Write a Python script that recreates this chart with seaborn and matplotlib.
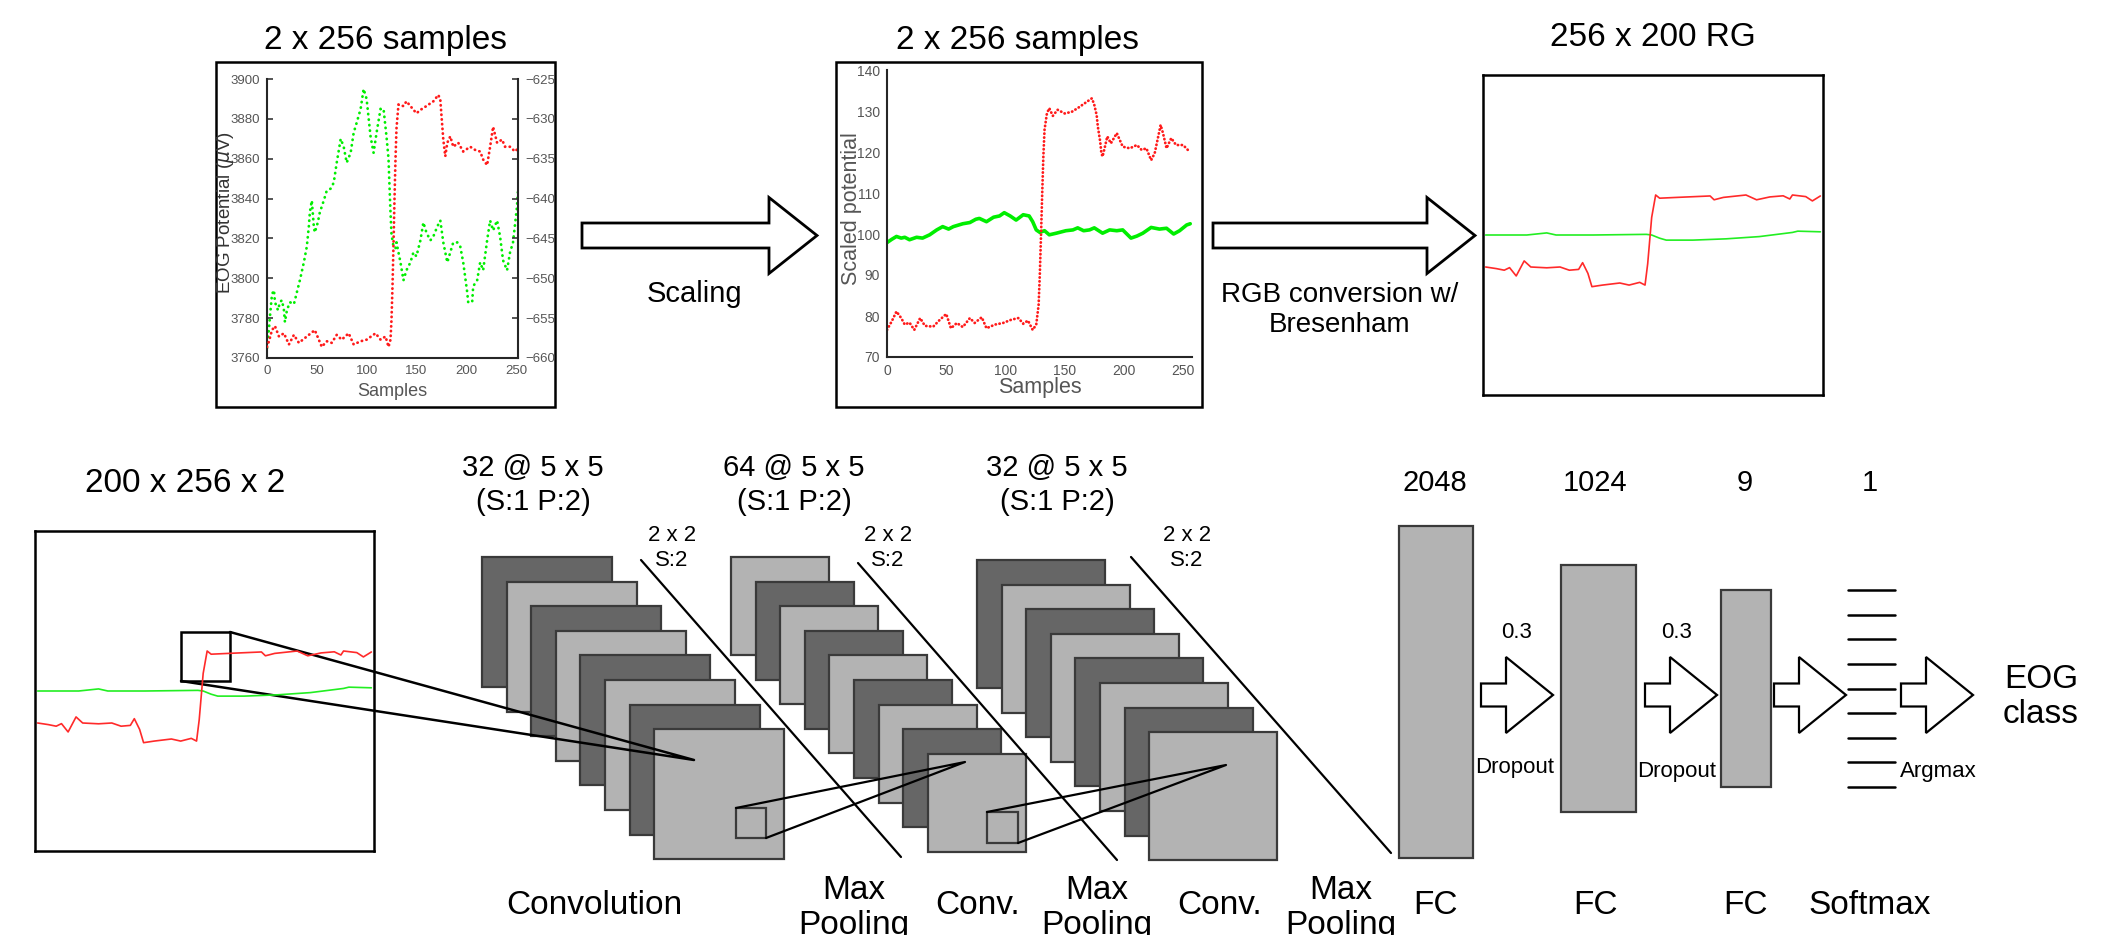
import matplotlib
matplotlib.use("Agg")
import matplotlib.pyplot as plt
from matplotlib.patches import Rectangle, Polygon
import seaborn as sns

# ---- raw EOG signal (2 channels) ----
raw_green_x = [0, 1, 2, 3, 5, 7, 8, 11, 13, 15, 17, 18, 20, 23, 27, 30, 33, 37, 40, 42, 43, 45, 47, 48,
               51, 53, 57, 60, 64, 67, 70, 74, 77, 80, 84, 87, 90, 94, 97, 100, 104, 107, 110, 114,
               117, 120, 122, 123, 124, 125, 127, 129, 130, 134, 137, 140, 144, 147, 150, 154, 157,
               160, 164, 167, 171, 174, 177, 181, 184, 187, 191, 194, 197, 201, 202, 206, 207, 211,
               214, 217, 221, 224, 227, 231, 234, 237, 241, 244, 247, 251, 252]
raw_green = [3765, 3770, 3775, 3781, 3792, 3794, 3788, 3784, 3788, 3789, 3784, 3778, 3784, 3788, 3787,
             3793, 3799, 3808, 3816, 3826, 3833, 3839, 3826, 3823, 3828, 3833, 3839, 3844, 3845, 3848,
             3858, 3870, 3866, 3858, 3863, 3873, 3878, 3885, 3895, 3890, 3871, 3863, 3873, 3885, 3885,
             3871, 3860, 3846, 3833, 3822, 3816, 3815, 3818, 3808, 3799, 3804, 3808, 3813, 3811, 3819,
             3828, 3823, 3819, 3821, 3826, 3829, 3818, 3808, 3813, 3818, 3818, 3816, 3808, 3793, 3788,
             3788, 3796, 3799, 3808, 3804, 3819, 3829, 3824, 3829, 3821, 3809, 3804, 3813, 3818, 3836,
             3844]
raw_red_x = [0, 2, 5, 8, 12, 17, 22, 27, 32, 40, 48, 55, 60, 65, 70, 75, 82, 87, 94, 100, 109, 114,
             119, 122, 124, 125, 126, 127, 128, 129, 130, 132, 137, 140, 144, 150, 155, 160, 167, 172,
             174, 175, 177, 179, 181, 184, 187, 192, 197, 204, 209, 214, 217, 221, 224, 227, 231, 236,
             239, 244, 249, 252]
raw_red = [-658.6, -657.9, -656.5, -656.0, -657.3, -656.9, -658.3, -657.1, -658.1, -657.3, -656.5,
           -658.6, -657.9, -658.1, -657.1, -657.7, -656.9, -658.3, -657.9, -657.7, -656.9, -657.7,
           -657.3, -658.6, -657.7, -655.2, -651.0, -645.8, -640.1, -635.1, -631.2, -628.2, -628.4,
           -627.8, -628.4, -629.3, -628.8, -628.4, -627.8, -627.0, -627.6, -629.3, -632.6, -634.7,
           -633.0, -632.2, -633.5, -633.0, -634.1, -633.5, -633.9, -634.1, -635.1, -635.8, -633.5,
           -631.0, -633.0, -632.6, -633.5, -633.5, -634.1, -633.7]

# ---- scaled signal, middle panel ----
scaled_green_x = [0, 4, 8, 12, 15, 19, 25, 30, 36, 42, 47, 52, 56, 64, 70, 75, 78, 84, 90, 95, 99,
                  104, 109, 115, 120, 123, 126, 129, 133, 137, 143, 151, 157, 161, 166, 171, 175, 182,
                  188, 194, 199, 206, 211, 216, 223, 230, 236, 242, 247, 253, 256]
scaled_green = [97.9, 98.7, 99.4, 99.0, 99.2, 98.6, 99.2, 99.0, 99.8, 101.0, 101.8, 101.2, 101.8,
                102.5, 102.8, 103.6, 103.8, 103.0, 104.1, 104.4, 105.2, 104.4, 103.4, 104.7, 104.4,
                103.0, 101.0, 100.4, 100.8, 99.8, 100.2, 100.8, 101.0, 101.5, 100.8, 101.0, 101.5,
                100.2, 101.0, 100.8, 101.0, 99.0, 99.5, 100.2, 101.6, 101.2, 101.4, 100.0, 100.8,
                102.2, 102.5]
scaled_red_x = [0, 4, 8, 12, 15, 19, 23, 28, 32, 39, 44, 50, 54, 59, 64, 70, 74, 80, 84, 91, 98, 105,
                111, 115, 119, 123, 126, 128, 129, 130, 131, 132, 133, 135, 137, 140, 144, 150, 156,
                161, 167, 173, 175, 177, 178, 180, 181, 182, 184, 186, 189, 194, 199, 205, 211, 215,
                219, 223, 226, 229, 231, 233, 236, 240, 244, 250, 254, 256]
scaled_red = [76.6, 78.7, 81.1, 79.5, 77.9, 78.4, 76.6, 79.5, 77.6, 77.4, 78.9, 80.5, 77.0, 78.3, 77.3,
              79.5, 78.3, 79.7, 77.0, 77.9, 78.3, 79.1, 79.5, 78.1, 78.9, 76.6, 77.9, 82.7, 90.0, 99.4,
              109.5, 118.9, 125.4, 129.4, 130.7, 128.8, 130.3, 129.4, 129.8, 130.7, 131.9, 133.1,
              131.5, 129.0, 126.2, 122.5, 119.7, 118.9, 121.3, 123.8, 122.1, 124.6, 121.3, 120.9,
              121.7, 120.5, 120.9, 118.0, 119.7, 123.8, 126.6, 124.6, 120.9, 123.4, 121.7, 121.7,
              120.5, 120.9]

# ---- RG image rows (column index -> row value out of 200) ----
rg_red_x = [2, 10, 16, 20, 25, 31, 36, 48, 58, 65, 72, 75, 79, 82, 90, 103, 110, 118, 122, 124, 127,
            130, 133, 146, 171, 174, 181, 198, 206, 216, 226, 231, 233, 243, 248, 254]
rg_red = [80, 79, 78, 79.6, 74.4, 83.8, 80, 79.5, 80, 78, 78.5, 82.7, 76, 67.7, 68.7, 70, 68.7, 70.4,
          68.7, 82, 111, 125, 123, 123.5, 124.4, 122, 123.5, 125, 122, 123.8, 124.5, 122.5, 125, 124,
          121.3, 124.4]
rg_green_x = [2, 33, 48, 55, 83, 123, 127, 133, 138, 158, 183, 208, 233, 237, 254]
rg_green = [100, 100, 101.3, 100, 100, 100.4, 100, 98, 96.8, 96.8, 97.6, 99, 101.6, 102.4, 102]

# ---- network text ----
conv_labels = ["32 @ 5 x 5\n(S:1 P:2)", "64 @ 5 x 5\n(S:1 P:2)", "32 @ 5 x 5\n(S:1 P:2)"]
pool_labels = ["2 x 2\nS:2", "2 x 2\nS:2", "2 x 2\nS:2"]
fc_units = ["2048", "1024", "9", "1"]
dropout_rates = ["0.3", "0.3"]
stage_names = ["Convolution", "Max\nPooling", "Conv.", "Max\nPooling", "Conv.", "Max\nPooling",
               "FC", "FC", "FC", "Softmax"]

sns.set_style("white")
plt.rcParams["font.family"] = ["Liberation Sans", "DejaVu Sans"]

W, H = 2117, 935
fig = plt.figure(figsize=(W / 100, H / 100), dpi=100)
fig.patch.set_facecolor("white")
ax = fig.add_axes([0, 0, 1, 1])
ax.set_xlim(0, W)
ax.set_ylim(H, 0)
ax.axis("off")


def px_axes(x0, y0, x1, y1):
    return fig.add_axes([x0 / W, 1 - y1 / H, (x1 - x0) / W, (y1 - y0) / H])


def txt(x, y, s, size, **kw):
    ax.text(x, y, s, fontsize=size, ha="center", va="center", color="black", **kw)


def block_arrow(x0, xb, xt, yc, sh, hh, lw):
    pts = [(x0, yc - sh), (xb, yc - sh), (xb, yc - hh), (xt, yc),
           (xb, yc + hh), (xb, yc + sh), (x0, yc + sh)]
    ax.add_patch(Polygon(pts, closed=True, fc="white", ec="black", lw=lw, joinstyle="miter"))


def style_plot(a, labelsize):
    a.tick_params(direction="in", length=4, width=1.1, color="#262626",
                  labelcolor="#555555", labelsize=labelsize, pad=5)
    for s in a.spines.values():
        s.set_color("#262626")
        s.set_linewidth(1.5)
    a.spines["top"].set_visible(False)
    a.patch.set_alpha(0)


dot = dict(dash_capstyle="round", estimator=None, sort=False)

# ---- top row: raw signal ----
ax.add_patch(Rectangle((216, 62), 339, 345, fill=False, ec="black", lw=1.8))
txt(385, 40, "2 x 256 samples", 24)
ax1 = px_axes(267, 79, 518, 358)
sns.lineplot(x=raw_green_x, y=raw_green, ax=ax1, color="#00ee00", lw=2.0,
             linestyle=(0, (0.1, 1.9)), **dot)
ax1.set_xlim(0, 252)
ax1.set_ylim(3760, 3900)
ax1.set_xticks(range(0, 251, 50))
ax1.set_yticks(range(3760, 3901, 20))
ax1r = ax1.twinx()
sns.lineplot(x=raw_red_x, y=raw_red, ax=ax1r, color="#ff1a1a", lw=2.0,
             linestyle=(0, (0.1, 1.6)), **dot)
ax1r.set_ylim(-660, -625)
ax1r.set_yticks(range(-660, -624, 5))
ax1r.set_ylabel("")
style_plot(ax1, 9.5)
style_plot(ax1r, 9.5)
for s in ["left", "bottom"]:
    ax1r.spines[s].set_visible(False)
ax1.spines["right"].set_visible(False)
ax1.set_xlabel("Samples", fontsize=13, color="#555555", va="center")
ax1.xaxis.set_label_coords(0.5, (358 - 392) / 279)
ax1.set_ylabel("EOG Potential ($\\mu$V)", fontsize=13.5, color="#333333", va="center")
ax1.yaxis.set_label_coords((225 - 267) / 251, 0.523)

block_arrow(582, 769, 817, 235.5, 12.5, 38, 2.0)
txt(694, 294, "Scaling", 21)

# ---- top row: scaled signal ----
ax.add_patch(Rectangle((836, 62), 366, 345, fill=False, ec="black", lw=1.8))
txt(1018, 40, "2 x 256 samples", 24)
ax2 = px_axes(887, 70, 1192, 357)
sns.lineplot(x=scaled_green_x, y=scaled_green, ax=ax2, color="#00ee00", lw=2.6,
             estimator=None, sort=False)
sns.lineplot(x=scaled_red_x, y=scaled_red, ax=ax2, color="#ff1a1a", lw=2.0,
             linestyle=(0, (0.1, 1.3)), **dot)
ax2.set_xlim(0, 257.5)
ax2.set_ylim(70, 140)
ax2.set_xticks(range(0, 251, 50))
ax2.set_yticks(range(70, 141, 10))
style_plot(ax2, 10)
ax2.spines["right"].set_visible(False)
ax2.set_xlabel("Samples", fontsize=15.5, color="#555555", va="center")
ax2.xaxis.set_label_coords(0.5, (357 - 388) / 287)
ax2.set_ylabel("Scaled potential", fontsize=15.5, color="#555555", va="center")
ax2.yaxis.set_label_coords((851 - 887) / 305, 0.516)

block_arrow(1213, 1427, 1475, 235.5, 12.5, 38, 2.0)
txt(1340, 310, "RGB conversion w/\nBresenham", 20, linespacing=1.25)


# ---- RG images ----
def rg_image(x0, y0, x1, y1):
    a = px_axes(x0, y0, x1, y1)
    sns.lineplot(x=rg_green_x, y=rg_green, ax=a, color="#22ee22", lw=1.2,
                 estimator=None, sort=False)
    sns.lineplot(x=rg_red_x, y=rg_red, ax=a, color="#ff2a2a", lw=1.2,
                 estimator=None, sort=False)
    a.set_xlim(0, 256)
    a.set_ylim(0, 200)
    a.set_xticks([])
    a.set_yticks([])
    a.set_xlabel("")
    a.set_ylabel("")
    for s in a.spines.values():
        s.set_visible(True)
        s.set_color("black")
        s.set_linewidth(1.8)
    a.patch.set_alpha(0)
    return a


txt(1653, 38, "256 x 200 RG", 24)
rg_image(1483, 75, 1823, 395)

txt(185, 483, "200 x 256 x 2", 24)
rg_image(35, 531, 374, 851)

# ---- feature map stacks ----
dark, light, edge = "#666666", "#b3b3b3", "#3a3a3a"
step = 24.6


def stack(x0, y0, size, n, first_dark):
    for i in range(n):
        fc = dark if (i % 2 == 0) == first_dark else light
        ax.add_patch(Rectangle((x0 + i * step, y0 + i * step), size, size,
                               fc=fc, ec=edge, lw=1.6))


stack(482, 557, 130, 8, True)
stack(731, 557, 98, 9, False)
stack(977, 560, 128, 8, True)

# max pooling separators
for (xa, ya, xb, yb) in [(641, 560, 901, 857), (858, 563, 1117, 860), (1131, 557, 1391, 853)]:
    ax.plot([xa, xb], [ya, yb], color="black", lw=1.6)

# receptive field cones
ax.add_patch(Rectangle((181, 632), 49, 49, fill=False, ec="black", lw=1.8))
ax.plot([230, 694, 181], [632, 760, 681], color="black", lw=1.8)
ax.add_patch(Rectangle((736, 808), 30, 30, fc=light, ec=edge, lw=1.6))
ax.plot([736, 965, 766], [808, 762, 838], color="black", lw=1.6)
ax.add_patch(Rectangle((987, 812), 31, 31, fc=light, ec=edge, lw=1.6))
ax.plot([987, 1226, 1018], [812, 765, 843], color="black", lw=1.6)

for s, x in zip(conv_labels, [533, 794, 1057]):
    txt(x, 485, s, 21, linespacing=1.25)
for s, x in zip(pool_labels, [672, 888, 1187]):
    txt(x, 548, s, 16)

# ---- fully connected part ----
for (x0, y0, x1, y1) in [(1399, 526, 1473, 858), (1561, 565, 1636, 812), (1721, 590, 1771, 787)]:
    ax.add_patch(Rectangle((x0, y0), x1 - x0, y1 - y0, fc=light, ec=edge, lw=1.6))
for i in range(9):
    y = 590 + i * (787 - 590) / 8
    ax.plot([1848, 1895], [y, y], color="black", lw=1.8)

for x0 in [1481, 1645, 1774, 1901]:
    block_arrow(x0, x0 + 25, x0 + 72, 695, 11.5, 38, 1.6)

for s, x in zip(fc_units, [1435, 1595, 1745, 1870]):
    txt(x, 483, s, 21)
for s, x in zip(dropout_rates, [1517, 1677]):
    txt(x, 633, s, 16)
txt(1515, 767, "Dropout", 16)
txt(1677, 772, "Dropout", 16)
txt(1938, 772, "Argmax", 16)
txt(2041, 697, "EOG\nclass", 24)

# the pooling captions run off the bottom edge in the original figure too
for s, x in zip(stage_names, [594, 854, 978, 1097, 1220, 1341, 1435, 1595, 1745, 1870]):
    txt(x, 908 if "\n" in s else 906, s, 24)

fig.savefig("out.png", dpi=100, facecolor="white")
